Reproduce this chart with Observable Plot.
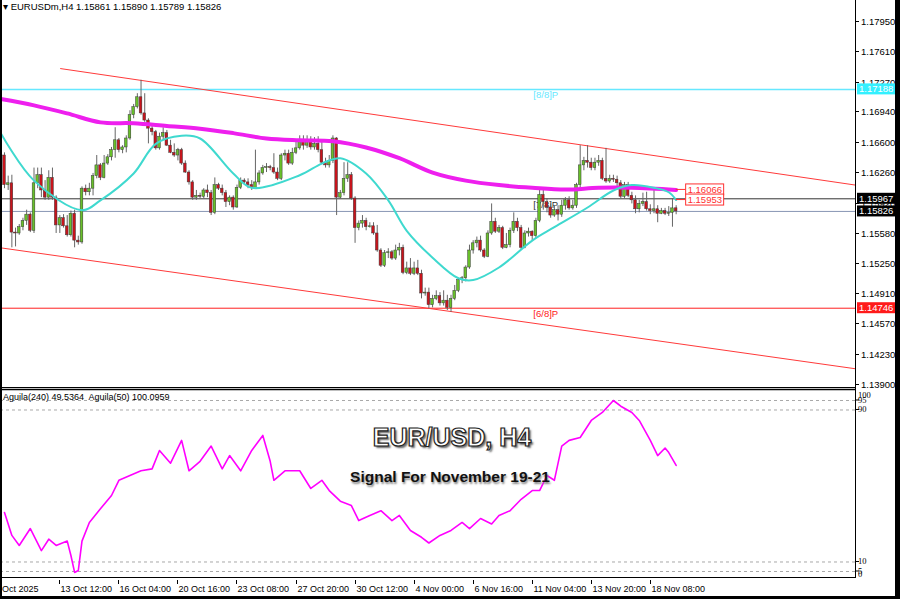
<!DOCTYPE html>
<html><head><meta charset="utf-8">
<script src="https://cdn.jsdelivr.net/npm/d3@7"></script>
<script src="https://cdn.jsdelivr.net/npm/@observablehq/plot@0.6"></script>
<style>
body{margin:0;background:#fff;}
#wrap{position:relative;width:900px;height:599px;overflow:hidden;background:#fff;font-family:"Liberation Sans",Arial,sans-serif;}
#wrap svg{position:absolute;left:0;}
.ov{position:absolute;white-space:nowrap;}
</style></head><body><div id="wrap"></div>
<script>
// ---------------- DATA ----------------
const symbolText = "EURUSDm,H4";
const lastOHLC = [1.15861, 1.15890, 1.15789, 1.15826];
const opens = [1.1645,1.1612,1.1614,1.1559,1.1558,1.1565,1.1572,1.1579,1.1561,1.1614,1.1623,1.1606,1.1598,1.1620,1.1598,1.1567,1.1575,1.1566,1.1556,1.1580,1.1550,1.1548,1.1608,1.1604,1.1608,1.1622,1.1634,1.1620,1.1636,1.1643,1.1651,1.1662,1.1651,1.1654,1.1664,1.1690,1.1699,1.1710,1.1692,1.1684,1.1675,1.1671,1.1653,1.1666,1.1670,1.1656,1.1648,1.1645,1.1651,1.1636,1.1626,1.1615,1.1598,1.1600,1.1599,1.1606,1.1603,1.1581,1.1612,1.1608,1.1603,1.1593,1.1598,1.1587,1.1609,1.1617,1.1615,1.1612,1.1609,1.1615,1.1625,1.1631,1.1632,1.1631,1.1626,1.1619,1.1645,1.1647,1.1636,1.1648,1.1653,1.1662,1.1656,1.1662,1.1654,1.1658,1.1651,1.1637,1.1634,1.1639,1.1664,1.1598,1.1603,1.1619,1.1623,1.1597,1.1564,1.1569,1.1572,1.1565,1.1566,1.1558,1.1539,1.1522,1.1536,1.1537,1.1530,1.1539,1.1542,1.1514,1.1519,1.1513,1.1519,1.1513,1.1491,1.1492,1.1478,1.1485,1.1488,1.1480,1.1483,1.1475,1.1485,1.1494,1.1506,1.1508,1.1520,1.1539,1.1547,1.1550,1.1539,1.1532,1.1558,1.1571,1.1560,1.1564,1.1542,1.1545,1.1561,1.1571,1.1564,1.1542,1.1558,1.1560,1.1555,1.1572,1.1601,1.1593,1.1587,1.1578,1.1584,1.1579,1.1589,1.1595,1.1586,1.1589,1.1612,1.1634,1.1639,1.1637,1.1631,1.1637,1.1639,1.1619,1.1616,1.1619,1.1618,1.1614,1.1599,1.1612,1.1600,1.1595,1.1585,1.1591,1.1593,1.1585,1.1583,1.1585,1.1580,1.1583,1.1580,1.1581,1.15861];
const closes = [1.1612,1.1614,1.1559,1.1558,1.1565,1.1572,1.1579,1.1561,1.1614,1.1623,1.1606,1.1598,1.1620,1.1598,1.1567,1.1575,1.1566,1.1556,1.1580,1.1550,1.1548,1.1608,1.1604,1.1608,1.1622,1.1634,1.1620,1.1636,1.1643,1.1651,1.1662,1.1651,1.1654,1.1664,1.1690,1.1699,1.1710,1.1692,1.1684,1.1675,1.1671,1.1653,1.1666,1.1670,1.1656,1.1648,1.1645,1.1651,1.1636,1.1626,1.1615,1.1598,1.1600,1.1599,1.1606,1.1603,1.1581,1.1612,1.1608,1.1603,1.1593,1.1598,1.1587,1.1609,1.1617,1.1615,1.1612,1.1609,1.1615,1.1625,1.1631,1.1632,1.1631,1.1626,1.1619,1.1645,1.1647,1.1636,1.1648,1.1653,1.1662,1.1656,1.1662,1.1654,1.1658,1.1651,1.1637,1.1634,1.1639,1.1664,1.1598,1.1603,1.1619,1.1623,1.1597,1.1564,1.1569,1.1572,1.1565,1.1566,1.1558,1.1539,1.1522,1.1536,1.1537,1.1530,1.1539,1.1542,1.1514,1.1519,1.1513,1.1519,1.1513,1.1491,1.1492,1.1478,1.1485,1.1488,1.1480,1.1483,1.1475,1.1485,1.1494,1.1506,1.1508,1.1520,1.1539,1.1547,1.1550,1.1539,1.1532,1.1558,1.1571,1.1560,1.1564,1.1542,1.1545,1.1561,1.1571,1.1564,1.1542,1.1558,1.1560,1.1555,1.1572,1.1601,1.1593,1.1587,1.1578,1.1584,1.1579,1.1589,1.1595,1.1586,1.1589,1.1612,1.1634,1.1639,1.1637,1.1631,1.1637,1.1639,1.1619,1.1616,1.1619,1.1618,1.1614,1.1599,1.1612,1.1600,1.1595,1.1585,1.1591,1.1593,1.1585,1.1583,1.1585,1.1580,1.1583,1.1580,1.1581,1.1586,1.15826];
const highs = [1.1648,1.1622,1.1623,1.1564,1.1568,1.1575,1.1584,1.1581,1.1631,1.1631,1.1631,1.1617,1.1628,1.1631,1.1600,1.1578,1.1579,1.1578,1.1583,1.1584,1.1555,1.1610,1.1612,1.1614,1.1625,1.1645,1.1636,1.1645,1.1646,1.1654,1.1676,1.1664,1.1656,1.1667,1.1695,1.1702,1.1714,1.1729,1.1714,1.1686,1.1678,1.1673,1.1670,1.1676,1.1673,1.1662,1.1658,1.1653,1.1653,1.1639,1.1628,1.1617,1.1606,1.1603,1.1608,1.1612,1.1606,1.1620,1.1614,1.1612,1.1606,1.1600,1.1600,1.1612,1.1620,1.1619,1.1619,1.1617,1.1651,1.1628,1.1634,1.1636,1.1634,1.1647,1.1631,1.1647,1.1651,1.1651,1.1653,1.1662,1.1667,1.1667,1.1667,1.1666,1.1665,1.1666,1.1662,1.1642,1.1645,1.1667,1.1665,1.1606,1.1637,1.1637,1.1626,1.1599,1.1572,1.1578,1.1575,1.1570,1.1570,1.1567,1.1541,1.1539,1.1541,1.1539,1.1545,1.1547,1.1545,1.1526,1.1530,1.1526,1.1528,1.1517,1.1497,1.1497,1.1489,1.1494,1.1492,1.1494,1.1489,1.1489,1.1500,1.1508,1.1510,1.1522,1.1545,1.1550,1.1554,1.1555,1.1541,1.1561,1.1591,1.1575,1.1567,1.1566,1.1558,1.1564,1.1581,1.1575,1.1567,1.1561,1.1564,1.1561,1.1575,1.1606,1.1606,1.1597,1.1591,1.1589,1.1589,1.1595,1.1598,1.1599,1.1595,1.1614,1.1656,1.1643,1.1656,1.1642,1.1642,1.1645,1.1642,1.1653,1.1623,1.1623,1.1622,1.1617,1.1615,1.1615,1.1604,1.1600,1.1595,1.1603,1.1604,1.1590,1.1606,1.1589,1.1586,1.1586,1.1588,1.1597,1.15890];
const lows = [1.1608,1.1606,1.1542,1.1543,1.1556,1.1561,1.1567,1.1559,1.1558,1.1608,1.1598,1.1595,1.1595,1.1595,1.1558,1.1558,1.1564,1.1554,1.1554,1.1542,1.1545,1.1546,1.1600,1.1600,1.1600,1.1619,1.1617,1.1619,1.1634,1.1639,1.1642,1.1648,1.1647,1.1648,1.1662,1.1686,1.1697,1.1690,1.1682,1.1658,1.1667,1.1651,1.1651,1.1662,1.1655,1.1647,1.1643,1.1639,1.1634,1.1625,1.1612,1.1595,1.1595,1.1597,1.1597,1.1598,1.1578,1.1579,1.1606,1.1600,1.1587,1.1589,1.1584,1.1586,1.1607,1.1612,1.1608,1.1606,1.1608,1.1612,1.1623,1.1626,1.1628,1.1624,1.1617,1.1617,1.1639,1.1634,1.1634,1.1646,1.1651,1.1651,1.1653,1.1651,1.1651,1.1648,1.1636,1.1631,1.1631,1.1636,1.1578,1.1596,1.1600,1.1615,1.1595,1.1547,1.1561,1.1564,1.1561,1.1564,1.1556,1.1537,1.1520,1.1520,1.1530,1.1528,1.1528,1.1533,1.1512,1.1512,1.1511,1.1511,1.1511,1.1485,1.1488,1.1474,1.1475,1.1483,1.1477,1.1477,1.1472,1.1470,1.1483,1.1492,1.1502,1.1504,1.1518,1.1535,1.1542,1.1537,1.1530,1.1531,1.1556,1.1558,1.1558,1.1540,1.1541,1.1542,1.1558,1.1560,1.1540,1.1541,1.1554,1.1550,1.1552,1.1570,1.1584,1.1581,1.1575,1.1576,1.1572,1.1576,1.1584,1.1584,1.1584,1.1586,1.1608,1.1628,1.1631,1.1628,1.1628,1.1633,1.1617,1.1614,1.1614,1.1615,1.1610,1.1597,1.1597,1.1598,1.1591,1.1580,1.1581,1.1588,1.1583,1.1579,1.1580,1.1570,1.1579,1.1578,1.1577,1.1565,1.15789];

// moving averages read at sampled bars: [bar index, price]
const maSlow = [[-1,1.1708],[8,1.1701],[17,1.1692],[26,1.1682],[35,1.1681],[44,1.1678],[53,1.1675],[62,1.1670],[71,1.1664],[80,1.1662],[89,1.1661],[98,1.1654],[107,1.1642],[116,1.1626],[125,1.1617],[134,1.1612],[143,1.1609],[152,1.1607],[161,1.1609],[170,1.1609],[182,1.16066]];
const maFast = [[-1,1.1670],[8,1.1617],[21,1.1584],[26,1.1595],[35,1.1625],[41,1.1658],[48,1.1667],[53,1.1664],[62,1.1625],[67,1.1609],[80,1.1623],[86,1.1636],[91,1.1642],[98,1.1625],[104,1.1595],[109,1.1561],[116,1.1531],[123,1.1508],[127,1.1506],[134,1.1520],[143,1.1550],[149,1.1565],[158,1.1587],[165,1.1606],[170,1.1612],[176,1.1609],[180,1.1604],[182,1.15953]];
const maTags = [1.16066, 1.15953];

// channel lines [bar index, price]
const channelUpper = [[15.2,1.1742],[230.6,1.1612]];
const channelLower = [[-1.08,1.1542],[230.6,1.1407]];

// Murrey levels and current price
const levelNames = ["[8/8]P","[7/8]P","[6/8]P"];
const levelValues = [1.17188, 1.15967, 1.14746];
const levelColors = ["#66e8ff","#000000","#ff2020"];
const bidPrice = 1.15826;

// price axis ticks
const priceTicks = [1.17950,1.17610,1.17270,1.16940,1.16600,1.16260,1.15920,1.15580,1.15250,1.14910,1.14570,1.14230,1.13900];

// time axis
const timeTickIndex = [0,15,31,47,63,79,95,111,127,143,159,175];
const timeTickText = ["9 Oct 2025","13 Oct 12:00","16 Oct 04:00","20 Oct 16:00","23 Oct 08:00","27 Oct 20:00","30 Oct 12:00","4 Nov 00:00","6 Nov 16:00","11 Nov 04:00","13 Nov 20:00","18 Nov 08:00"];

// oscillator [bar index, value]
const osc = [[0,36],[2,24],[4,18.7],[7,27.6],[10,16],[12,22],[14,18.7],[17,21],[18,13.4],[19,4.5],[20,5.5],[21,21],[23,30.8],[26,38],[29,45],[31,53],[34,55.5],[37,58],[40,59],[42,68.7],[45,62],[48,74],[50,58],[53,63],[56,71],[59,59],[61,66],[64,58],[67,68.7],[70,76.6],[72,63],[73,53],[76,58],[80,58],[83,48.7],[86,53],[88,47.6],[91,42],[94,39.7],[96,31.8],[99,34.5],[102,37],[105,31.8],[107,34.5],[110,26.6],[113,23],[115,20],[118,24],[121,26.6],[124,30.8],[126,27.6],[129,32.9],[132,30],[134,34.5],[137,37],[140,43],[143,47.6],[145,47.6],[147,55.5],[149,53],[151,71],[153,74],[156,75.5],[159,84.5],[162,88.7],[165,95],[167,92],[170,88.7],[172,84.5],[175,74],[177,66],[179,70],[180,67.6],[182,60.8]];
const oscLevels = [95, 90, 10, 5];
const oscLabels = [100, 95, 90, 10, 5, 0];
const oscHeader = "Aguila(240) 49.5364  Aguila(50) 100.0959";
const titleText = "EUR/USD, H4";
const subtitleText = "Signal For November 19-21";

// ---------------- BUILD ----------------
const bars = opens.map((o, i) => ({i, o, h: highs[i], l: lows[i], c: closes[i]}));
const xDomain = [-1.08, 230.6];
const wrap = document.getElementById("wrap");

function tag(g, x, y, w, text, bg, fg, border) {
  g.append("rect").attr("x", x).attr("y", y - 5.5).attr("width", w).attr("height", 11)
    .attr("fill", bg).attr("stroke", border || "none");
  g.append("text").attr("x", x + 2).attr("y", y).attr("dy", "0.35em").attr("fill", fg)
    .attr("text-anchor", "start").attr("font-size", 9.5).text(text);
}

const mainDecor = (index, scales, values, dims) => {
  const g = d3.create("svg:g").attr("text-anchor", "start");
  const xr = dims.width - dims.marginRight;
  const H = dims.height;
  g.append("line").attr("x1", xr + 0.5).attr("x2", xr + 0.5).attr("y1", 0).attr("y2", H).attr("stroke", "#000");
  g.append("line").attr("x1", 0).attr("x2", xr).attr("y1", H - 0.5).attr("y2", H - 0.5).attr("stroke", "#000");
  for (const t of priceTicks) {
    const y = Math.round(scales.y(t)) + 0.5;
    g.append("line").attr("x1", xr).attr("x2", xr + 4).attr("y1", y).attr("y2", y).attr("stroke", "#000");
    g.append("text").attr("x", xr + 6).attr("y", y).attr("dy", "0.35em").attr("text-anchor", "start")
      .attr("font-size", 9.5).text(t.toFixed(5));
  }
  tag(g, xr + 2, scales.y(levelValues[0]), 38, levelValues[0].toFixed(5), "#33f0ff", "#fff");
  tag(g, xr + 2, scales.y(levelValues[2]), 38, levelValues[2].toFixed(5), "#ff1a1a", "#fff");
  tag(g, xr + 2, scales.y(levelValues[1]), 38, levelValues[1].toFixed(5), "#000", "#fff");
  tag(g, xr + 2, scales.y(bidPrice), 38, bidPrice.toFixed(5), "#000", "#fff");
  const lastX = scales.x(bars.length - 1);
  maTags.forEach((v) => {
    const y = scales.y(v);
    g.append("line").attr("x1", lastX).attr("x2", lastX + 10).attr("y1", y).attr("y2", y).attr("stroke", "#ff3030");
    tag(g, lastX + 10, y, 38, v.toFixed(5), "#fff", "#ff3030", "#ff3030");
  });
  return g.node();
};

const main = Plot.plot({
  width: 900, height: 388,
  marginTop: 0, marginLeft: 0, marginRight: 45, marginBottom: 0,
  x: {domain: xDomain, axis: null},
  y: {domain: [1.1385, 1.1818], axis: null},
  style: {fontFamily: "'Liberation Sans', Arial, sans-serif", fontSize: "9px", background: "transparent"},
  marks: [
    Plot.ruleY([levelValues[0]], {stroke: levelColors[0], strokeWidth: 1.5}),
    Plot.ruleY([levelValues[1]], {stroke: "#333", strokeWidth: 1}),
    Plot.ruleY([bidPrice], {stroke: "#8896b4", strokeWidth: 1}),
    Plot.ruleY([levelValues[2]], {stroke: levelColors[2], strokeWidth: 1}),
    Plot.line(channelUpper, {x: d => d[0], y: d => d[1], stroke: "#ff3a3a", strokeWidth: 1, clip: true}),
    Plot.line(channelLower, {x: d => d[0], y: d => d[1], stroke: "#ff3a3a", strokeWidth: 1, clip: true}),
    Plot.text(levelNames.map((n, k) => ({n, v: levelValues[k], c: levelColors[k] === "#000000" ? "#333" : levelColors[k]})),
      {x: 143.3, y: "v", text: "n", fill: "c", textAnchor: "start", dy: 6, fontSize: 9.5}),
    Plot.ruleX(bars, {x: "i", y1: "l", y2: "h", stroke: "#666", strokeWidth: 1}),
    Plot.rect(bars, {x1: d => d.i - 0.36, x2: d => d.i + 0.36, y1: "o", y2: "c",
      fill: d => d.c >= d.o ? "#68c02a" : "#c8141c", stroke: "#3a3a3a", strokeWidth: 0.5}),
    Plot.line(maSlow, {x: d => d[0], y: d => d[1], stroke: "#ee1fee", strokeWidth: 4, curve: "catmull-rom", clip: true}),
    Plot.line(maFast, {x: d => d[0], y: d => d[1], stroke: "#3fd9cf", strokeWidth: 2, curve: "catmull-rom", clip: true}),
    mainDecor
  ]
});
main.style.top = "0px";
wrap.appendChild(main);

const oscDecor = (index, scales, values, dims) => {
  const g = d3.create("svg:g").attr("text-anchor", "start");
  const xr = dims.width - dims.marginRight;
  const yb = dims.height - dims.marginBottom;
  g.append("line").attr("x1", 0).attr("x2", xr).attr("y1", 1.5).attr("y2", 1.5).attr("stroke", "#000").attr("stroke-width", 1.5);
  g.append("line").attr("x1", xr + 0.5).attr("x2", xr + 0.5).attr("y1", 0).attr("y2", yb).attr("stroke", "#000");
  g.append("line").attr("x1", 0).attr("x2", xr + 1).attr("y1", yb + 0.5).attr("y2", yb + 0.5).attr("stroke", "#000");
  for (const v of oscLabels) {
    const y = scales.y(v) + (v === 100 ? 5 : v === 0 ? -6 : 0);
    if (v !== 100 && v !== 0) g.append("line").attr("x1", xr).attr("x2", xr + 4).attr("y1", y).attr("y2", y).attr("stroke", "#000");
    g.append("text").attr("x", xr + 3).attr("y", y).attr("dy", "0.35em").attr("font-size", 8.5)
      .attr("text-anchor", "start").attr("font-family", "'Liberation Serif', serif").text(v);
  }
  timeTickIndex.forEach((t, k) => {
    const x = Math.round(scales.x(t)) + 0.5;
    if (k > 0) g.append("line").attr("x1", x).attr("x2", x).attr("y1", yb + 3).attr("y2", yb + 7).attr("stroke", "#000");
    g.append("text").attr("x", k === 0 ? x - 10 : x + 1).attr("y", yb + 12).attr("dy", "0.35em")
      .attr("text-anchor", "start").attr("font-size", 9).text(timeTickText[k]);
  });
  g.append("text").attr("x", 3).attr("y", 9).attr("dy", "0.35em").attr("text-anchor", "start").attr("font-size", 9).text(oscHeader);
  return g.node();
};

const oscPlot = Plot.plot({
  width: 900, height: 211,
  marginTop: 2, marginLeft: 0, marginRight: 45, marginBottom: 22,
  x: {domain: xDomain, axis: null},
  y: {domain: [1.84, 100.26], axis: null},
  style: {fontFamily: "'Liberation Sans', Arial, sans-serif", fontSize: "9px", background: "transparent"},
  marks: [
    Plot.ruleY(oscLevels, {stroke: "#a8a8a8", strokeDasharray: "3,3", strokeWidth: 1}),
    Plot.line(osc, {x: d => d[0], y: d => d[1], stroke: "#ff00ff", strokeWidth: 1.6}),
    oscDecor
  ]
});
oscPlot.style.top = "388px";
wrap.appendChild(oscPlot);

// header
const hdr = document.createElement("div");
hdr.className = "ov";
hdr.style.cssText = "left:3px;top:1px;font-size:9.5px;color:#000;";
hdr.textContent = "\u25BE " + symbolText + "  " + lastOHLC.map(v => v.toFixed(5)).join(" ");
wrap.appendChild(hdr);

// title overlays
const t1 = document.createElement("div");
t1.className = "ov";
t1.style.cssText = "left:452px;top:437px;transform:translate(-50%,-50%);font-weight:bold;font-size:25px;color:#fff;-webkit-text-stroke:1.2px #222;text-shadow:2px 2px 2px #666;font-family:'Liberation Sans',Arial,sans-serif;";
t1.textContent = titleText;
wrap.appendChild(t1);
const t2 = document.createElement("div");
t2.className = "ov";
t2.style.cssText = "left:450px;top:477px;transform:translate(-50%,-50%);font-weight:bold;font-size:15.5px;color:#111;text-shadow:1px 2px 2px #888;font-family:'Liberation Sans',Arial,sans-serif;";
t2.textContent = subtitleText;
wrap.appendChild(t2);

// outer frame
[["left:0;top:0;width:2px;height:599px"],["right:0;top:0;width:5px;height:599px"],["left:0;bottom:0;width:900px;height:3px"]].forEach(([css]) => {
  const d = document.createElement("div");
  d.className = "ov";
  d.style.cssText = css + ";background:#000;";
  wrap.appendChild(d);
});
</script></body></html>
